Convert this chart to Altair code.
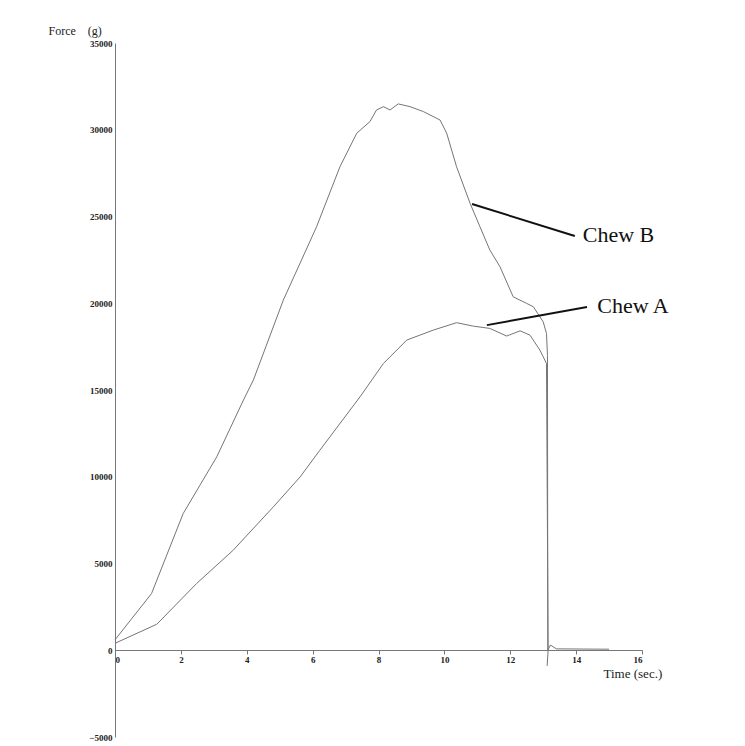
import altair as alt
import pandas as pd

# Chew B trace (time in s, force in g)
time_b = [0.0, 1.11, 2.07, 3.09, 3.90, 4.20, 5.11, 6.12, 6.83, 7.34, 7.74, 7.94,
          8.15, 8.35, 8.60, 8.96, 9.36, 9.87, 10.07, 10.37, 10.78, 11.08, 11.38,
          11.69, 12.09, 12.50, 12.70, 13.00, 13.10, 13.13, 13.14, 13.22, 13.40, 15.00]
force_b = [600, 3270, 7880, 11150, 14420, 15570, 20180, 24410, 27870, 29800, 30470, 31140,
           31330, 31140, 31490, 31330, 31050, 30560, 29800, 27870, 25760, 24410, 23070,
           22100, 20370, 19990, 19800, 18930, 18260, 17000, 0, 300, 80, 60]

# Chew A trace
time_a = [0.0, 1.27, 2.48, 3.59, 4.81, 5.62, 6.22, 7.44, 8.15, 8.86, 9.66, 10.37,
          10.88, 11.38, 11.89, 12.30, 12.60, 12.90, 13.10, 13.15, 13.12]
force_a = [400, 1500, 3850, 5770, 8270, 9990, 11530, 14610, 16530, 17880, 18450, 18880,
           18680, 18550, 18110, 18410, 18160, 17300, 16530, 0, -900]

x_ticks = [0, 2, 4, 6, 8, 10, 12, 14, 16]
y_ticks = [-5000, 0, 5000, 10000, 15000, 20000, 25000, 30000, 35000]

# annotations
ann_labels = ["Chew A", "Chew B"]
ann_time = [14.64, 14.20]
ann_force = [19830, 23920]
lead_t1 = [11.29, 10.84]
lead_f1 = [18740, 25720]
lead_t2 = [14.33, 13.96]
lead_f2 = [19780, 23880]

rows = []
for i, (t, f) in enumerate(zip(time_a, force_a)):
    rows.append({"series": "Chew A", "time": t, "force": f, "order": i})
for i, (t, f) in enumerate(zip(time_b, force_b)):
    rows.append({"series": "Chew B", "time": t, "force": f, "order": i})
df = pd.DataFrame(rows)

ann = pd.DataFrame({"label": ann_labels, "time": ann_time, "force": ann_force,
                    "t1": lead_t1, "f1": lead_f1, "t2": lead_t2, "f2": lead_f2})

FONT = "Liberation Serif"
xs = alt.Scale(domain=[0, 16], nice=False, zero=False)
ys = alt.Scale(domain=[-5000, 35000], nice=False, zero=False)

lines = alt.Chart(df).mark_line(color="#757575", strokeWidth=1).encode(
    x=alt.X("time:Q", scale=xs, axis=alt.Axis(
        values=x_ticks, format="d", grid=False, offset=-87,
        title="Time (sec.)", titleFont=FONT, titleFontWeight="normal", titleFontSize=13,
        titleColor="#222", titleAnchor="start", titleAlign="left", titleX=488, titleY=23,
        titleBaseline="middle",
        domainColor="#777", tickColor="#777", tickSize=4, labelFont=FONT,
        labelFontWeight="bold", labelFontSize=9, labelColor="#222", labelPadding=1)),
    y=alt.Y("force:Q", scale=ys, axis=alt.Axis(
        values=y_ticks, format="d", grid=False,
        title="Force\u2002\u2002(g)", titleFont=FONT, titleFontWeight="normal", titleFontSize=12,
        titleColor="#222", titleAngle=0, titleAlign="left", titleX=-67, titleY=-13,
        titleBaseline="middle",
        domainColor="#777", tickSize=0, labelFont=FONT, labelFontWeight="bold",
        labelFontSize=9, labelColor="#222", labelPadding=3)),
    detail="series:N",
    order="order:Q",
)

leaders = alt.Chart(ann).mark_rule(color="#111", strokeWidth=2).encode(
    x=alt.X("t1:Q", scale=xs), y=alt.Y("f1:Q", scale=ys),
    x2="t2:Q", y2="f2:Q",
)

texts = alt.Chart(ann).mark_text(font=FONT, fontSize=22, color="#111",
                                 align="left", baseline="middle").encode(
    x=alt.X("time:Q", scale=xs), y=alt.Y("force:Q", scale=ys), text="label:N",
)

chart = alt.layer(lines, leaders, texts).properties(
    width=527, height=694,
    autosize=alt.AutoSizeParams(type="none"),
    padding={"left": 107, "top": 35, "right": 80, "bottom": 5},
    background="white",
).configure_view(stroke=None)

chart.save("out.html", embed_options={"renderer": "svg", "actions": False})
